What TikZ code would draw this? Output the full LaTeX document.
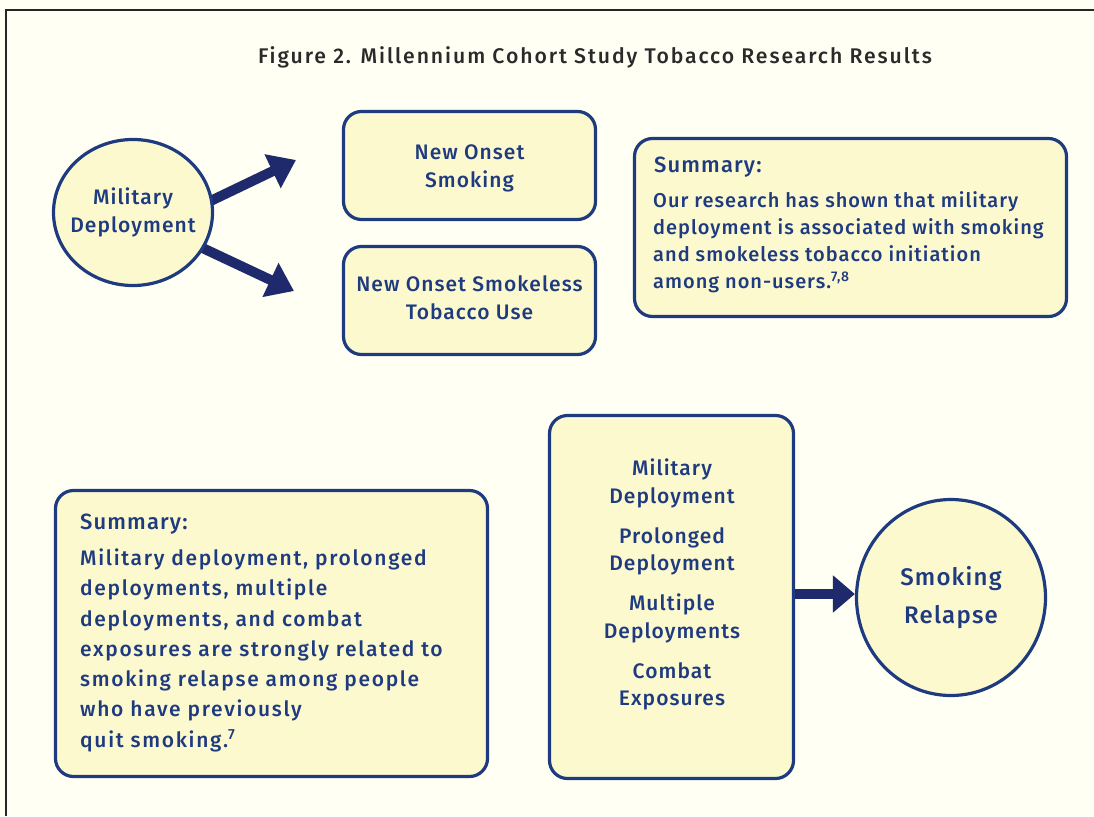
\documentclass[tikz,border=0pt]{standalone}
\usepackage{fontspec}
\setmainfont{Fira Sans}[UprightFont={* Medium},LetterSpace=5]
\newfontfamily\widefont{Fira Sans}[UprightFont={* Medium},LetterSpace=8]
\newfontfamily\titlefont{Fira Sans}[UprightFont={* Medium},LetterSpace=9]
\usetikzlibrary{arrows.meta,shapes.geometric}
\definecolor{bg}{HTML}{FFFFF3}
\definecolor{boxfill}{HTML}{FCF9CF}
\definecolor{navy}{HTML}{1F3B80}
\definecolor{arrownavy}{HTML}{1E2A6C}
\definecolor{titlecol}{HTML}{2A2A2A}
\pgfdeclarelayer{canvas}
\pgfdeclarelayer{back}
\pgfsetlayers{canvas,back,main}
\begin{document}
\begin{tikzpicture}[x=1pt,y=-1pt,
  box/.style={draw=navy, line width=3.2pt, fill=boxfill, rounded corners=18pt, inner sep=0pt},
  circ/.style={draw=navy, line width=3.2pt, fill=boxfill, ellipse, inner sep=0pt},
  lbl/.style={text=navy, align=center, inner sep=0pt},
  body/.style={text=navy, align=left, inner sep=0pt, anchor=north west},
  fat/.style={draw=arrownavy, line width=10pt, -{Triangle[length=26pt,width=36pt]}},
  fatr/.style={draw=arrownavy, line width=10pt, -{Triangle[length=22pt,width=36pt]}}]
\useasboundingbox (0,0) rectangle (1094,816);
\begin{pgfonlayer}{canvas}
\fill[bg] (0,0) rectangle (1094,816);
\draw[line width=2pt, black!85] (1094,10) -- (6,10) -- (6,816);
\end{pgfonlayer}

\node[text=titlecol, inner sep=0pt, font=\titlefont\fontsize{21.2}{25}\selectfont] (title) at (595,57)
  {Figure 2. Millennium Cohort Study Tobacco Research Results};

% top section
\node[circ, minimum width=159pt, minimum height=146pt] (md) at (133,212.5) {};
\node[lbl, font=\fontsize{21}{28}\selectfont] (mdt) at (133,212.5) {Military\\Deployment};
\node[box, minimum width=252pt, minimum height=108pt] (nos) at (469.5,165.5) {};
\node[lbl, font=\fontsize{21}{28}\selectfont] (nost) at (469.5,168.5) {New Onset\\Smoking};
\node[box, minimum width=252pt, minimum height=108pt] (nst) at (469.5,300.5) {};
\node[lbl, font=\fontsize{21}{28}\selectfont] (nstt) at (469.5,297.5) {New Onset Smokeless\\Tobacco Use};
\coordinate (t1) at (296,160);
\coordinate (t2) at (294,291);
\begin{pgfonlayer}{back}
  \draw[fat, shorten <=-6pt] (md.9) -- (t1);
  \draw[fat, shorten <=-6pt] (md.-27) -- (t2);
\end{pgfonlayer}

\node[box, minimum width=432pt, minimum height=178pt] (sum1) at (850.5,227.5) {};
\node[body, font=\fontsize{22}{26}\selectfont] (sum1h) at (654,157) {Summary:};
\node[body, font=\fontsize{20}{27}\selectfont] (sum1b) at (653,191.5)
  {Our research has shown that military\\
   deployment is associated with smoking\\
   and smokeless tobacco initiation\\
   among non-users.\textsuperscript{7,8}};

% bottom section
\node[box, minimum width=432pt, minimum height=286pt] (sum2) at (271.5,633.5) {};
\node[body, font=\fontsize{22}{26}\selectfont] (sum2h) at (80,514) {Summary:};
\node[body, font=\widefont\fontsize{21}{30.3}\selectfont] (sum2b) at (80,548.5)
  {Military deployment, prolonged\\
   deployments, multiple\\
   deployments, and combat\\
   exposures are strongly related to\\
   smoking relapse among people\\
   who have previously\\
   quit smoking.\textsuperscript{7}};

\node[box, minimum width=244pt, minimum height=363pt] (mid) at (671.5,597) {};
\node[lbl, anchor=north, font=\fontsize{21}{27.5}\selectfont] (midt) at (672,459)
  {Military\\Deployment\\[12.5pt]Prolonged\\Deployment\\[12.5pt]Multiple\\Deployments\\[12.5pt]Combat\\Exposures};

\node[circ, minimum width=189pt, minimum height=196pt] (sr) at (951,597.5) {};
\node[lbl, font=\fontsize{24}{38}\selectfont] (srt) at (951,597.5) {Smoking\\Relapse};
\begin{pgfonlayer}{back}
  \draw[fatr, shorten <=-6pt] (mid.east |- 0,594) -- (sr.west |- 0,594);
\end{pgfonlayer}
\end{tikzpicture}
\end{document}
